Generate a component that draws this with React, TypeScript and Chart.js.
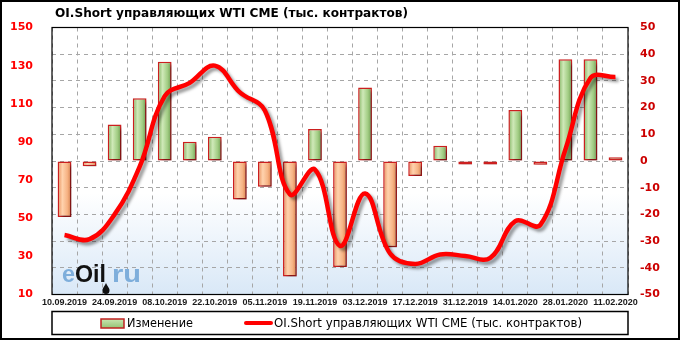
import React, { useEffect, useRef } from 'react';
import { Chart, registerables } from 'chart.js';

Chart.register(...registerables);

// ---- data ----
const categories = [
  '10.09.2019', '17.09.2019', '24.09.2019', '01.10.2019', '08.10.2019', '15.10.2019',
  '22.10.2019', '29.10.2019', '05.11.2019', '12.11.2019', '19.11.2019', '26.11.2019',
  '03.12.2019', '10.12.2019', '17.12.2019', '24.12.2019', '31.12.2019', '07.01.2020',
  '14.01.2020', '21.01.2020', '28.01.2020', '04.02.2020', '11.02.2020',
];
const changeValues = [
  -21, -2, 13.7, 23.5, 37.2, 7.2, 9.1, -14.4, -9.6, -43.3, 12, -39.7,
  27.5, -32.3, -5.6, 5.7, -1.3, -1.3, 19.1, -1.4, 38.1, 38.1, 1.4,
];
const oiShortValues = [
  41.2, 39, 52, 77, 114, 121, 130, 116, 106.5, 62.5, 75.5, 35.5,
  63, 31.5, 26, 31, 30.2, 29.2, 48.5, 46.5, 86, 123.5, 124,
];
const leftAxis = { min: 10, max: 150, step: 20 };
const rightAxis = { min: -50, max: 50, step: 10 };

const titleText = 'OI.Short управляющих WTI CME (тыс. контрактов)';
const legendBarText = 'Изменение';
const legendLineText = 'OI.Short управляющих WTI CME (тыс. контрактов)';

const FONT = '"DejaVu Sans", Verdana, sans-serif';

function fitText(ctx: CanvasRenderingContext2D, text: string, x: number, y: number, w: number, font: string, color: string) {
  ctx.save();
  ctx.font = font;
  ctx.fillStyle = color;
  ctx.textBaseline = 'middle';
  ctx.textAlign = 'left';
  const m = ctx.measureText(text).width;
  const s = m > 0 ? w / m : 1;
  ctx.translate(x, y);
  ctx.scale(s, 1);
  ctx.fillText(text, 0, 0);
  ctx.restore();
}

const decorPlugin = {
  id: 'decor',
  beforeDraw(chart: any) {
    const { ctx, chartArea: a, width, height } = chart;
    ctx.save();
    ctx.fillStyle = '#ffffff';
    ctx.fillRect(0, 0, width, height);
    const g = ctx.createLinearGradient(0, a.top, 0, a.bottom);
    g.addColorStop(0, '#ffffff');
    g.addColorStop(0.62, '#ffffff');
    g.addColorStop(1, '#d9e8f7');
    ctx.fillStyle = g;
    ctx.fillRect(a.left, a.top, a.right - a.left, a.bottom - a.top);
    ctx.restore();
  },
  beforeDatasetsDraw(chart: any) {
    const ctx = chart.ctx as CanvasRenderingContext2D;
    // watermark
    ctx.save();
    ctx.textBaseline = 'alphabetic';
    const base = 282;
    ctx.font = 'bold 24px "Liberation Sans", Arial, sans-serif';
    let w = ctx.measureText('e').width;
    ctx.save(); ctx.translate(62, base); ctx.scale(13 / w, 1); ctx.fillStyle = '#7eaedb'; ctx.fillText('e', 0, 0); ctx.restore();
    w = ctx.measureText('Oil').width;
    ctx.save(); ctx.translate(75, base); ctx.scale(31 / w, 1); ctx.fillStyle = '#111111'; ctx.fillText('Oil', 0, 0); ctx.restore();
    w = ctx.measureText('ru').width;
    ctx.save(); ctx.translate(112, base); ctx.scale(29 / w, 1); ctx.fillStyle = '#7eaedb'; ctx.fillText('ru', 0, 0); ctx.restore();
    // drop
    ctx.fillStyle = '#111111';
    ctx.beginPath();
    ctx.moveTo(106, 283);
    ctx.bezierCurveTo(104, 287, 102, 289, 102.5, 291);
    ctx.arc(106, 290.5, 3.5, Math.PI, 0, true);
    ctx.bezierCurveTo(110, 289, 108, 287, 106, 283);
    ctx.fill();
    ctx.restore();
  },
  beforeDatasetDraw(chart: any) {
    const ctx = chart.ctx;
    ctx.save();
    ctx.shadowColor = 'rgba(0,0,0,0.38)';
    ctx.shadowBlur = 3;
    ctx.shadowOffsetX = 3;
    ctx.shadowOffsetY = 3;
  },
  afterDatasetDraw(chart: any) {
    chart.ctx.restore();
  },
  afterDraw(chart: any) {
    const { ctx, chartArea: a, width, height } = chart;
    ctx.save();
    ctx.strokeStyle = '#000000';
    ctx.lineWidth = 1.2;
    ctx.strokeRect(a.left, a.top, a.right - a.left, a.bottom - a.top);
    ctx.lineWidth = 2;
    ctx.strokeRect(1, 1, width - 2, height - 2);
    ctx.restore();

    fitText(ctx, titleText, 55, 14, 353, `bold 13px ${FONT}`, '#000000');

    ctx.save();
    ctx.fillStyle = '#ffffff';
    ctx.fillRect(52, 311.5, 576, 23);
    ctx.strokeStyle = '#000000';
    ctx.lineWidth = 1.5;
    ctx.strokeRect(52, 311.5, 576, 23);
    const gm = ctx.createLinearGradient(0, 319, 0, 329);
    gm.addColorStop(0, '#c9e6b0');
    gm.addColorStop(1, '#8fbf6f');
    ctx.fillStyle = gm;
    ctx.fillRect(101, 319, 23, 9);
    ctx.strokeStyle = '#c02020';
    ctx.lineWidth = 1.5;
    ctx.strokeRect(101, 319, 23, 9);
    ctx.strokeStyle = '#ff0000';
    ctx.lineWidth = 4;
    ctx.lineCap = 'round';
    ctx.beginPath();
    ctx.moveTo(246, 323);
    ctx.lineTo(271, 323);
    ctx.stroke();
    ctx.restore();
    fitText(ctx, legendBarText, 127, 323.5, 66, `12px ${FONT}`, '#000000');
    fitText(ctx, legendLineText, 274, 323.5, 308, `12px ${FONT}`, '#000000');
  },
};

function barFill(c: any) {
  const v = c.raw as number;
  const pos = v >= 0;
  if (c.type !== 'data' || !c.chart.chartArea || !c.chart.scales.x) return pos ? '#a9d18e' : '#f4b183';
  const x = c.chart.scales.x.getPixelForValue(c.dataIndex);
  const g = c.chart.ctx.createLinearGradient(x - 7, 0, x + 7, 0);
  if (pos) {
    g.addColorStop(0, '#7fb05e');
    g.addColorStop(0.35, '#cfe9b8');
    g.addColorStop(0.7, '#a2cd84');
    g.addColorStop(1, '#6a984d');
  } else {
    g.addColorStop(0, '#e58c58');
    g.addColorStop(0.35, '#ffd2ad');
    g.addColorStop(0.7, '#f6b384');
    g.addColorStop(1, '#d77b45');
  }
  return g;
}

export default function App() {
  const canvasRef = useRef<HTMLCanvasElement | null>(null);

  useEffect(() => {
    if (!canvasRef.current) return;
    const chart = new Chart(canvasRef.current, {
      type: 'bar',
      data: {
        labels: categories,
        datasets: [
          {
            type: 'line',
            label: legendLineText,
            data: oiShortValues,
            yAxisID: 'y',
            borderColor: '#ff0000',
            borderWidth: 4.5,
            tension: 0.4,
            pointRadius: 0,
            fill: false,
            order: 0,
          } as any,
          {
            type: 'bar',
            label: legendBarText,
            data: changeValues,
            yAxisID: 'y1',
            backgroundColor: barFill,
            borderColor: '#cc1f1f',
            borderWidth: 1.5,
            borderSkipped: false,
            barPercentage: 0.55,
            categoryPercentage: 1,
            order: 1,
          } as any,
        ],
      },
      options: {
        animation: false,
        responsive: true,
        maintainAspectRatio: false,
        layout: { padding: { top: 27.5, left: 0, right: 0, bottom: 0 } },
        plugins: {
          legend: { display: false },
          title: { display: false },
          tooltip: { enabled: false },
        },
        scales: {
          x: {
            offset: true,
            grid: { color: '#a6a6a6', lineWidth: 1, offset: true, drawTicks: false, tickLength: 0 } as any,
            border: { display: false, dash: [4, 4] },
            ticks: {
              autoSkip: false,
              maxRotation: 0,
              minRotation: 0,
              padding: 3,
              color: '#1a1a1a',
              font: { family: '"Liberation Sans", Arial, sans-serif', size: 9, weight: 'bold' },
              callback: (_v: any, i: number) => (i % 2 === 0 ? categories[i] : ''),
            },
            afterFit: (s: any) => { s.height = 45.5; },
          },
          y: {
            position: 'left',
            min: leftAxis.min,
            max: leftAxis.max,
            grid: { display: false },
            border: { display: false },
            ticks: {
              stepSize: leftAxis.step,
              color: '#ff0000',
              padding: 11,
              font: { family: FONT, size: 11, weight: 'bold' },
            },
            afterFit: (s: any) => { s.width = 52; },
          },
          y1: {
            position: 'right',
            min: rightAxis.min,
            max: rightAxis.max,
            grid: { color: '#a6a6a6', lineWidth: 1, drawTicks: false, tickLength: 0 } as any,
            border: { display: false, dash: [4, 4] },
            ticks: {
              stepSize: rightAxis.step,
              color: '#cc0000',
              padding: 12,
              font: { family: FONT, size: 11, weight: 'bold' },
            },
            afterFit: (s: any) => { s.width = 52; },
          },
        },
      },
      plugins: [decorPlugin],
    });
    return () => chart.destroy();
  }, []);

  return (
    <div style={{ position: 'absolute', left: 0, top: 0, width: 680, height: 340 }}>
      <canvas ref={canvasRef} />
    </div>
  );
}
